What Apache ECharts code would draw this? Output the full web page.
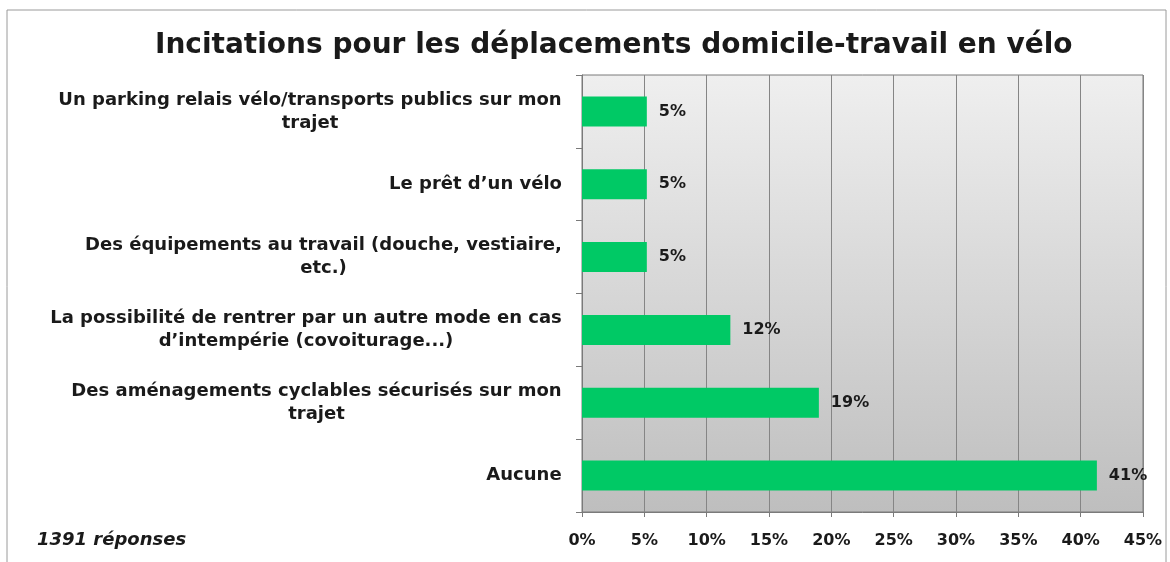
<!DOCTYPE html>
<html>
<head>
<meta charset="utf-8">
<script src="https://cdn.jsdelivr.net/npm/echarts@6/dist/echarts.min.js"></script>
<style>
  html, body { margin: 0; padding: 0; background: #fff; }
  #chart { width: 1170px; height: 562px; }
</style>
</head>
<body>
<div id="chart"></div>
<script>
// catégories, de haut en bas
const categories = [
  'Un parking relais vélo/transports publics sur mon\ntrajet',
  'Le prêt d’un vélo',
  'Des équipements au travail (douche, vestiaire,\netc.)',
  'La possibilité de rentrer par un autre mode en cas\nd’intempérie (covoiturage...)',
  'Des aménagements cyclables sécurisés sur mon\ntrajet',
  'Aucune'
]
// part des réponses (%)
const values = [5.2, 5.2, 5.2, 11.9, 19.0, 41.3]
const xTicks = [0, 5, 10, 15, 20, 25, 30, 35, 40, 45]

const labelFont = { fontFamily: 'DejaVu Sans', fontSize: 18, fontWeight: 'bold' }

// mesurer chaque ligne pour centrer les lignes dans un bloc aligné à droite
const ctx = document.createElement('canvas').getContext('2d')
ctx.font = labelFont.fontWeight + ' ' + labelFont.fontSize + 'px "' + labelFont.fontFamily + '"'
const rich = {}
categories.forEach((c, i) => {
  let w = 0
  c.split('\n').forEach(l => { w = Math.max(w, ctx.measureText(l).width) })
  rich['c' + i] = Object.assign({ width: Math.ceil(w), align: 'center', color: '#1a1a1a', lineHeight: 23 }, labelFont)
})

const chart = echarts.init(document.getElementById('chart'))
chart.setOption({
  animation: false,
  title: [
    {
      text: 'Incitations pour les déplacements domicile-travail en vélo',
      left: 150,
      top: 27,
      textStyle: { fontFamily: 'DejaVu Sans', fontSize: 28, fontWeight: 'bold', color: '#1a1a1a' }
    },
    {
      text: '1391 réponses',
      left: 32,
      top: 526,
      textStyle: { fontFamily: 'DejaVu Sans', fontSize: 18, fontStyle: 'italic', fontWeight: 'bold', color: '#1a1a1a' }
    }
  ],
  graphic: [{
    type: 'rect',
    silent: true,
    shape: { x: 7, y: 10, width: 1159, height: 570 },
    style: { fill: null, stroke: '#9a9a9a', lineWidth: 1 }
  }],
  grid: {
    left: 582,
    right: 27,
    top: 75,
    bottom: 50,
    show: true,
    borderColor: '#7a7a7a',
    borderWidth: 1,
    backgroundColor: new echarts.graphic.LinearGradient(0, 0, 0, 1, [
      { offset: 0, color: '#efefef' },
      { offset: 1, color: '#bebebe' }
    ])
  },
  xAxis: {
    type: 'value',
    min: xTicks[0],
    max: xTicks[xTicks.length - 1],
    interval: 5,
    axisLine: { show: true, lineStyle: { color: '#7a7a7a' } },
    axisTick: { show: true, length: 5, lineStyle: { color: '#7a7a7a' } },
    splitLine: { show: true, lineStyle: { color: '#858585', width: 1 } },
    axisLabel: Object.assign({ color: '#1a1a1a', margin: 21, formatter: v => v + '%' }, labelFont, { fontSize: 16 })
  },
  yAxis: {
    type: 'category',
    inverse: true,
    data: categories,
    axisLine: { show: true, lineStyle: { color: '#7a7a7a' } },
    axisTick: { show: true, length: 6, lineStyle: { color: '#7a7a7a' } },
    axisLabel: {
      align: 'right',
      margin: 20,
      rich: rich,
      formatter: (v, i) => v.split('\n').map(l => '{c' + i + '|' + l + '}').join('\n')
    }
  },
  series: [{
    type: 'bar',
    data: values,
    barWidth: 30,
    itemStyle: { color: '#00c965' },
    label: {
      show: true,
      position: 'right',
      distance: 12,
      color: '#1a1a1a',
      fontFamily: 'DejaVu Sans',
      fontSize: 16,
      fontWeight: 'bold',
      formatter: p => Math.round(p.value) + '%'
    }
  }]
})
</script>
</body>
</html>
